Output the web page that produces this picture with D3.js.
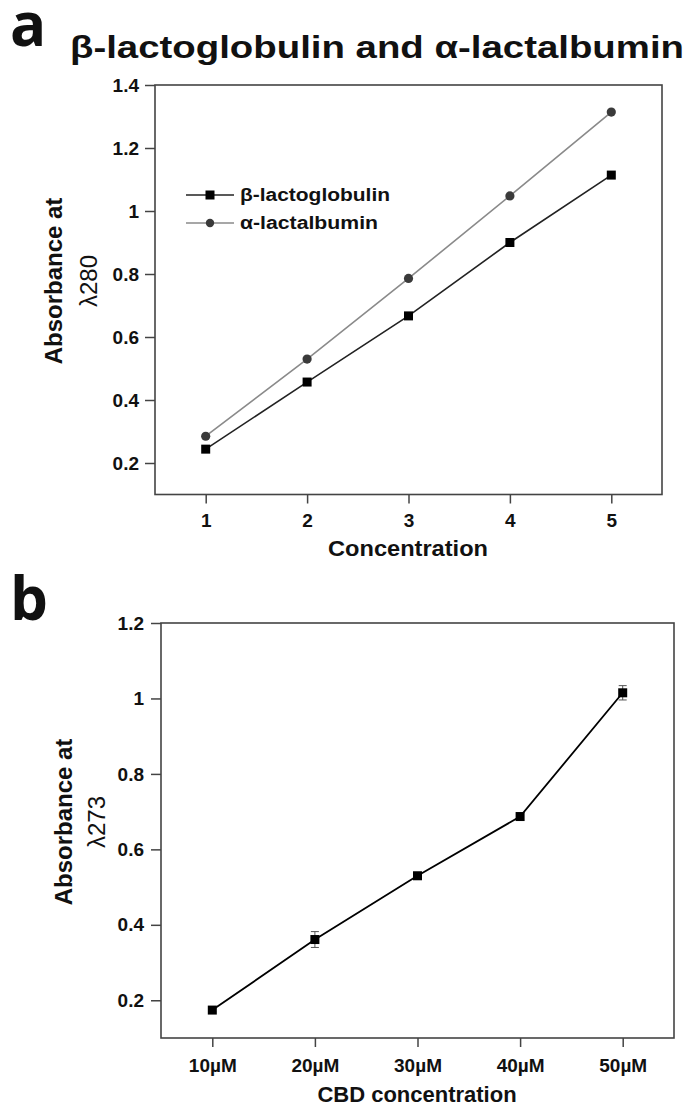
<!DOCTYPE html>
<html>
<head>
<meta charset="utf-8">
<script src="https://cdn.jsdelivr.net/npm/d3@7"></script>
<style>
  html, body { margin: 0; padding: 0; background: #fff; }
  svg { display: block; }
  text { font-family: "Liberation Sans", Arial, sans-serif; font-weight: bold; fill: #111; }
</style>
</head>
<body>
<svg id="chart" width="687" height="1106"></svg>
<script>
// ---- Data: panel a ----
const aConc = [1, 2, 3, 4, 5];
const aBeta = [0.244, 0.457, 0.667, 0.900, 1.114];
const aAlpha = [0.285, 0.530, 0.786, 1.048, 1.314];
const aYTicks = [0.2, 0.4, 0.6, 0.8, 1, 1.2, 1.4];
const aSeriesNames = ["β-lactoglobulin", "α-lactalbumin"];

// ---- Data: panel b ----
const bCats = ["10µM", "20µM", "30µM", "40µM", "50µM"];
const bVals = [0.174, 0.361, 0.530, 0.687, 1.015];
const bErr = [0.005, 0.021, 0.009, 0.009, 0.019];
const bYTicks = [0.2, 0.4, 0.6, 0.8, 1, 1.2];

const svg = d3.select("#chart");
const fmt = d => String(+d.toFixed(1));
const frameColor = "#444";

function frame(g, x0, x1, y0, y1) {
  g.append("rect").attr("x", x0).attr("y", y0)
    .attr("width", x1 - x0).attr("height", y1 - y0)
    .attr("fill", "none").attr("stroke", frameColor).attr("stroke-width", 1.6);
}

function styleAxis(g) {
  g.select(".domain").remove();
  g.selectAll(".tick line").attr("stroke", frameColor).attr("stroke-width", 1.5);
  g.selectAll(".tick text").attr("fill", "#111")
    .style("font-family", '"Liberation Sans", Arial, sans-serif')
    .style("font-weight", "bold").style("font-size", "19px");
}

// ================= Panel a =================
{
  const L = 155, R = 662, T = 85, B = 494.5;
  const x = d3.scaleLinear().domain([0.5, 5.5]).range([L, R]);
  const y = d3.scaleLinear().domain([0.1, 1.4]).range([B, T]);
  const g = svg.append("g");

  svg.append("text").attr("x", 10).attr("y", 46)
    .style("font-family", '"Open Sans", sans-serif').style("font-size", "60px")
    .style("font-weight", "bold").text("a");

  svg.append("text").attr("x", 70).attr("y", 58)
    .style("font-size", "31px").attr("textLength", 614).attr("lengthAdjust", "spacingAndGlyphs")
    .text("β-lactoglobulin and α-lactalbumin");

  const ya = g.append("g").attr("transform", `translate(${L},0)`)
    .call(d3.axisLeft(y).tickValues(aYTicks).tickFormat(fmt).tickSize(10).tickPadding(6));
  styleAxis(ya);
  const xa = g.append("g").attr("transform", `translate(0,${B})`)
    .call(d3.axisBottom(x).tickValues(aConc).tickFormat(d3.format("d")).tickSize(9).tickPadding(10));
  styleAxis(xa);
  frame(g, L, R, T, B);

  const line = d3.line().x((d, i) => x(aConc[i])).y(d => y(d));
  g.append("path").datum(aAlpha).attr("d", line).attr("fill", "none")
    .attr("stroke", "#8a8a8a").attr("stroke-width", 1.6);
  g.append("path").datum(aBeta).attr("d", line).attr("fill", "none")
    .attr("stroke", "#222").attr("stroke-width", 1.6);
  g.selectAll(".ca").data(aAlpha).join("circle")
    .attr("cx", (d, i) => x(aConc[i])).attr("cy", d => y(d)).attr("r", 4.6).attr("fill", "#3a3a3a");
  g.selectAll(".sb").data(aBeta).join("rect")
    .attr("x", (d, i) => x(aConc[i]) - 4.5).attr("y", d => y(d) - 4.5)
    .attr("width", 9).attr("height", 9).attr("fill", "#000");

  // legend
  const lg = g.append("g");
  const ly = [195, 223];
  const lw = [150, 138];
  lg.append("line").attr("x1", 186).attr("x2", 234).attr("y1", ly[0]).attr("y2", ly[0])
    .attr("stroke", "#222").attr("stroke-width", 1.6);
  lg.append("rect").attr("x", 210 - 4.5).attr("y", ly[0] - 4.5).attr("width", 9).attr("height", 9).attr("fill", "#000");
  lg.append("line").attr("x1", 186).attr("x2", 234).attr("y1", ly[1]).attr("y2", ly[1])
    .attr("stroke", "#8a8a8a").attr("stroke-width", 1.6);
  lg.append("circle").attr("cx", 210).attr("cy", ly[1]).attr("r", 4.2).attr("fill", "#3a3a3a");
  aSeriesNames.forEach((n, i) => {
    lg.append("text").attr("x", 240).attr("y", ly[i] + 6).style("font-size", "18px")
      .attr("textLength", lw[i]).attr("lengthAdjust", "spacingAndGlyphs").text(n);
  });

  svg.append("text").attr("x", 408).attr("y", 556).attr("text-anchor", "middle")
    .style("font-size", "22px").attr("textLength", 160).attr("lengthAdjust", "spacingAndGlyphs")
    .text("Concentration");

  const yl = svg.append("text").attr("transform", "translate(0,281) rotate(-90)")
    .attr("text-anchor", "middle").style("font-size", "24px");
  yl.append("tspan").attr("x", 0).attr("y", 62).text("Absorbance at");
  yl.append("tspan").attr("x", 0).attr("y", 97).style("font-weight", "normal").text("λ280");
}

// ================= Panel b =================
{
  const L = 161, R = 674, T = 623, B = 1038;
  const x = d3.scaleLinear().domain([0.5, 5.5]).range([L, R]);
  const y = d3.scaleLinear().domain([0.1, 1.2]).range([B, T]);
  const g = svg.append("g");

  svg.append("text").attr("x", 10).attr("y", 620)
    .style("font-family", '"Open Sans", sans-serif').style("font-size", "60px")
    .style("font-weight", "bold").text("b");

  const ya = g.append("g").attr("transform", `translate(${L},0)`)
    .call(d3.axisLeft(y).tickValues(bYTicks).tickFormat(fmt).tickSize(10).tickPadding(7));
  styleAxis(ya);
  const xa = g.append("g").attr("transform", `translate(0,${B})`)
    .call(d3.axisBottom(x).tickValues(d3.range(1, bCats.length + 1))
      .tickFormat(d => bCats[d - 1]).tickSize(9).tickPadding(12));
  styleAxis(xa);
  frame(g, L, R, T, B);

  const line = d3.line().x((d, i) => x(i + 1)).y(d => y(d));
  g.append("path").datum(bVals).attr("d", line).attr("fill", "none")
    .attr("stroke", "#000").attr("stroke-width", 1.8);

  // error bars
  const eb = g.selectAll(".eb").data(bVals).join("g");
  eb.append("line").attr("x1", (d, i) => x(i + 1)).attr("x2", (d, i) => x(i + 1))
    .attr("y1", (d, i) => y(d + bErr[i])).attr("y2", (d, i) => y(d - bErr[i]))
    .attr("stroke", "#555").attr("stroke-width", 1);
  [1, -1].forEach(s => {
    eb.append("line").attr("x1", (d, i) => x(i + 1) - 4).attr("x2", (d, i) => x(i + 1) + 4)
      .attr("y1", (d, i) => y(d + s * bErr[i])).attr("y2", (d, i) => y(d + s * bErr[i]))
      .attr("stroke", "#555").attr("stroke-width", 1);
  });
  g.selectAll(".sq").data(bVals).join("rect")
    .attr("x", (d, i) => x(i + 1) - 4.5).attr("y", d => y(d) - 4.5)
    .attr("width", 9).attr("height", 9).attr("fill", "#000");

  svg.append("text").attr("x", 417).attr("y", 1102).attr("text-anchor", "middle")
    .style("font-size", "22px").text("CBD concentration");

  const yl = svg.append("text").attr("transform", "translate(0,822) rotate(-90)")
    .attr("text-anchor", "middle").style("font-size", "24px");
  yl.append("tspan").attr("x", 0).attr("y", 72).text("Absorbance at");
  yl.append("tspan").attr("x", 0).attr("y", 105).style("font-weight", "normal").text("λ273");
}
</script>
</body>
</html>
